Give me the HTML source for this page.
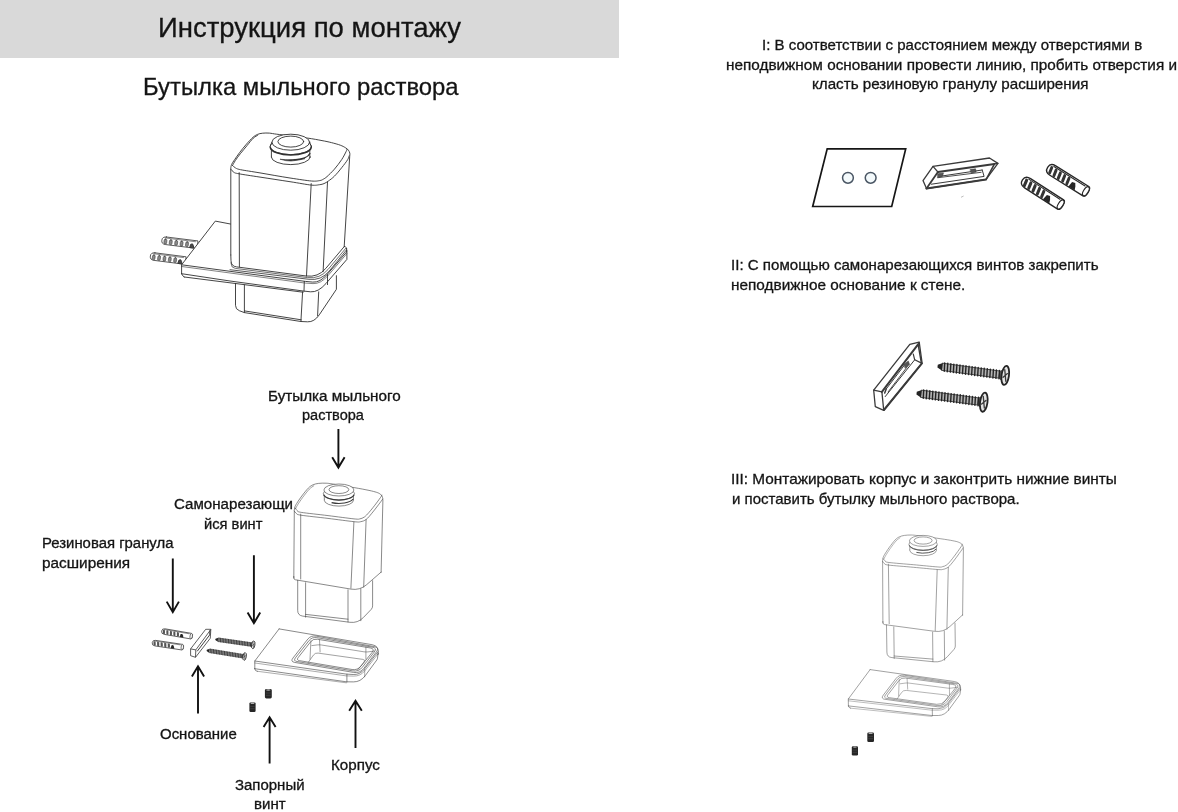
<!DOCTYPE html>
<html lang="ru"><head><meta charset="utf-8"><title>Инструкция по монтажу</title>
<style>
html,body{margin:0;padding:0;background:#fff}
body{width:1178px;height:812px;position:relative;overflow:hidden;font-family:"Liberation Sans",sans-serif;color:#111}
.bar{position:absolute;left:0;top:0;width:619.3px;height:57.6px;background:#d9d9d9}
.t{position:absolute;white-space:nowrap;transform-origin:0 0;color:#141414;will-change:transform;-webkit-text-stroke:0.3px #141414}
</style></head><body>
<div class="bar"></div>
<svg width="1178" height="812" viewBox="0 0 1178 812" style="position:absolute;left:0;top:0">
<g fill="none" stroke="#303030" stroke-width="0.9" stroke-linecap="round" stroke-linejoin="round">
<g transform="translate(163.7 240.5) rotate(7.1)">
<path d="M2.3 -3.8 L34.1 -3.8 L34.1 3.8 L2.3 3.8 Q-1.9 3.8 -1.9 0 Q-1.9 -3.8 2.3 -3.8Z" fill="#fff" stroke="#3a3a3a" stroke-width="0.8" stroke-linejoin="round"/>
<path d="M1.1 -2.7 L31.7 -2.7" stroke="#3a3a3a" stroke-width="0.5599999999999999" fill="none"/>
<rect x="0.4" y="-1.6" width="2.8" height="4.9" rx="1.3" fill="#8a8a8a" stroke="#3a3a3a" stroke-width="0.55"/>
<rect x="5.8" y="-1.6" width="2.8" height="4.9" rx="1.3" fill="#8a8a8a" stroke="#3a3a3a" stroke-width="0.55"/>
<rect x="11.3" y="-1.6" width="2.8" height="4.9" rx="1.3" fill="#8a8a8a" stroke="#3a3a3a" stroke-width="0.55"/>
<rect x="16.7" y="-1.6" width="2.8" height="4.9" rx="1.3" fill="#8a8a8a" stroke="#3a3a3a" stroke-width="0.55"/>
<rect x="22.2" y="-1.6" width="2.8" height="4.9" rx="1.3" fill="#8a8a8a" stroke="#3a3a3a" stroke-width="0.55"/>
<path d="M26.7 3.4 L27.3 0.4 L29 -0.2 L30.1 1.5 L30.7 3.4Z" fill="#4a4a4a"/>
</g>
<g transform="translate(152.2 256.3) rotate(7.3)">
<path d="M2.3 -3.8 L33.7 -3.8 L33.7 3.8 L2.3 3.8 Q-1.9 3.8 -1.9 0 Q-1.9 -3.8 2.3 -3.8Z" fill="#fff" stroke="#3a3a3a" stroke-width="0.8" stroke-linejoin="round"/>
<path d="M1.1 -2.7 L31.3 -2.7" stroke="#3a3a3a" stroke-width="0.5599999999999999" fill="none"/>
<rect x="0.3" y="-1.6" width="2.7" height="4.9" rx="1.3" fill="#8a8a8a" stroke="#3a3a3a" stroke-width="0.55"/>
<rect x="5.7" y="-1.6" width="2.7" height="4.9" rx="1.3" fill="#8a8a8a" stroke="#3a3a3a" stroke-width="0.55"/>
<rect x="11.1" y="-1.6" width="2.7" height="4.9" rx="1.3" fill="#8a8a8a" stroke="#3a3a3a" stroke-width="0.55"/>
<rect x="16.5" y="-1.6" width="2.7" height="4.9" rx="1.3" fill="#8a8a8a" stroke="#3a3a3a" stroke-width="0.55"/>
<rect x="21.9" y="-1.6" width="2.7" height="4.9" rx="1.3" fill="#8a8a8a" stroke="#3a3a3a" stroke-width="0.55"/>
<path d="M26.4 3.4 L27 0.4 L28.7 -0.2 L29.8 1.5 L30.4 3.4Z" fill="#4a4a4a"/>
</g>
<path d="M215.3 221.1 L181.6 264.8 L181.6 273.7 L182.9 275.4 Q184.3 277 188.3 277.5 L303.1 292.1 L310.4 292.8 Q317.6 293.4 325.4 284.3 L347 259.1 L347 250.6 Q347 248.6 345.6 247.2 L344.2 245.8 L231.4 224.2Z" fill="#fff" stroke="none"/>
<path d="M231.4 224.2 L215.3 221.1 L181.6 264.8 L181.6 273.7" />
<path d="M181.6 273.7 L181.6 273.7 Q182.7 276.3 184.3 277 L184.3 277" />
<path d="M181.6 264.8 L305.4 281.4 L312.7 282.1 Q320 282.7 327.2 274.4 L346.6 252 L346.6 248.6" />
<path d="M181.6 266.5 L305.4 283.1 L313 283.6 Q320.7 284.1 328.2 275.4 L346.8 253.7" stroke-width="0.6"/>
<path d="M181.6 273.7 L230 281 L303.1 291 L310.6 291.8 Q318.1 292.5 326 283.5 L346.9 259.4 L346.9 250.5" />
<path d="M184.3 277 L230 282.8 L303.1 292.2" />
<path d="M304.3 281.4 L304 291.2" />
<path d="M327.5 274.6 L327.5 284.6" />
<path d="M235.5 283.4 L235.5 305.3 Q235.5 309.3 239.3 310.7 L244.4 312.6 L300.9 321.5 L307.6 321.8 Q314.2 322.2 319.3 314.8 L336.4 289.3 L336.4 275.7" />
<path d="M244.4 284.9 L244.4 312.6" />
<path d="M244.4 310.9 L301.2 319.8" />
<path d="M302.6 291.8 L300.9 321.5" />
<path d="M318.7 291.9 L317.6 315.6" />
<path d="M230.8 255 L230.8 168 L231.6 164.5 L234.6 159.7 L239.8 152.3 L246.4 144.2 L253.1 137.2 L257.5 134.4 L262.7 133.2 L269.3 133.1 L276.7 134.2 L290 135.8 L307.7 138.1 L322 140.6 L331.4 142.6 L340.3 145.2 L345.4 147.7 L348.4 150.2 L349.8 153.2 L349.7 156.6 L344.2 246.6 L318.1 277.6 L231.1 266.2Z" fill="#fff" stroke="none"/>
<path d="M230.8 255 L230.8 168 L230.8 168 C230.9 167.4 231 165.9 231.6 164.5 C232.2 163.1 233.2 161.7 234.6 159.7 C236 157.7 237.8 154.9 239.8 152.3 C241.8 149.7 244.2 146.7 246.4 144.2 C248.6 141.7 251.2 138.8 253.1 137.2 C254.9 135.6 255.9 135.1 257.5 134.4 C259.1 133.7 260.7 133.4 262.7 133.2 C264.7 133 267 132.9 269.3 133.1 C271.6 133.3 273.2 133.8 276.7 134.2 C280.1 134.6 284.8 135.2 290 135.8 C295.2 136.5 302.4 137.3 307.7 138.1 C313 138.9 318.1 139.8 322 140.6 C325.9 141.3 328.3 141.8 331.4 142.6 C334.4 143.4 338 144.3 340.3 145.2 C342.6 146 344 146.9 345.4 147.7 C346.8 148.5 347.7 149.3 348.4 150.2 C349.1 151.1 349.6 152.1 349.8 153.2 C350 154.3 349.7 156 349.7 156.6 L344.2 246.6" />
<path d="M232.6 165.3 C233.1 164.5 234 162.6 235.3 160.6 C236.6 158.6 238.5 156 240.5 153.5 C242.5 151 245.1 148 247.2 145.4 C249.3 142.8 251.5 139.9 253.3 138.2 C255.1 136.5 257.1 135.7 257.8 135.2" />
<path d="M232.4 165.3 C232.9 165.7 234 167.1 235.3 167.8 C236.7 168.5 236.4 168.8 240.5 169.7 C244.6 170.5 251.8 171.5 260 172.9 C268.2 174.3 281.4 176.7 290 178 C298.6 179.3 306.5 180.6 311.4 181 C316.3 181.4 317.6 180.9 319.6 180.6 C321.6 180.3 322.1 179.9 323.3 179.2 C324.5 178.5 325.1 178.3 327 176.6 C328.9 174.9 331.9 172 334.4 169.2 C336.8 166.4 339.7 162.6 341.7 159.6 C343.7 156.6 345.3 153.1 346.2 151.4 C347.1 149.7 346.8 149.6 346.9 149.2" />
<path d="M230.9 169.3 C231.4 169.8 232.6 171.6 233.9 172.3 C235.2 173.1 234.7 173 239 173.8 C243.3 174.6 251.5 175.8 260 177.1 C268.5 178.4 281.4 180.4 290 181.7 C298.6 183 306.5 184.6 311.4 185.1 C316.3 185.6 317.5 184.9 319.6 184.7 C321.7 184.4 322.5 184.2 324 183.6 C325.5 183 326.7 182.2 328.4 181 C330.1 179.8 332.2 178.4 334.4 176.2 C336.6 174 339.5 170.5 341.7 167.7 C343.9 164.9 346.5 161.6 347.7 159.6 C348.9 157.6 348.9 156.5 349.1 155.9" />
<path d="M239.2 172.7 L239.4 266.9" />
<path d="M311.2 183.6 L306.5 276" />
<path d="M327.5 182.2 L323.1 271.8" />
<path d="M230.8 255 L231 260.7 Q231.1 266.2 236.6 266.9 L306.2 276 Q318.1 277.6 325.8 268.4 L344.2 246.6" />
<path d="M231.1 262.7 L231.2 263.9 Q231.3 267.9 235.3 268.4 L307.6 277.6 Q320 279.1 328 269.5 L345.8 248.3" stroke-width="0.7"/>
<path d="M230 269.7 L308.9 279.3 Q321.3 280.8 329.2 271.1 L346.4 250" stroke-width="0.8"/>
<path d="M344.2 246.6 L344.2 246.6 Q345.3 246.1 346 247.4 L346.6 248.6" />
<ellipse cx="290.8" cy="157" rx="19.4" ry="7.6" fill="#fff"/>
<rect x="271.4" y="147" width="38.8" height="10" fill="#fff" stroke="none"/>
<path d="M271.4 148 L271.4 157" />
<path d="M309.8 148 L309.8 157" />
<path d="M309.9 153.6 A19.4 7.8 0 0 1 294.1 159.9" stroke-width="1.3"/>
<path d="M280.4 159.3 Q286 161.2 291 161 Q298 160.6 305 158.6 Q297 159.6 291 159.6 Q285 159.8 280.4 159.3Z" fill="#333" stroke-width="0.6"/>
<ellipse cx="290.8" cy="146.6" rx="20.6" ry="8" fill="#fff"/>
<path d="M311.2 147.5 A20.5 8 0 0 1 270.3 147.5" stroke-width="1.5"/>
<ellipse cx="290.8" cy="142.2" rx="18.9" ry="8" fill="#fff"/>
<path d="M271.9 142.2 L270.1 146.6" />
<path d="M309.6 142.2 L311.4 146.6" />
<ellipse cx="290.8" cy="141.6" rx="12.9" ry="5.5" />
</g>
<g fill="none" stroke="#3a3a3a" stroke-width="0.6" stroke-linecap="round" stroke-linejoin="round">
<path d="M293.8 578 L294.3 510.5 C294.4 509.9 294.4 508.4 294.8 507.2 C295.2 506 295.5 505.3 296.7 503.5 C297.8 501.6 299.9 498.6 301.8 496 C303.8 493.4 306.5 489.9 308.3 488.1 C310.2 486.2 311.3 485.6 313 484.8 C314.7 484 316.4 483.7 318.6 483.4 C320.8 483.1 323.6 483.1 326.1 483.2 C328.6 483.3 328.9 483.4 333.6 484.2 C338.2 484.9 348.2 486.6 354.1 487.6 C360 488.6 365.3 489.6 369 490.4 C372.8 491.2 374.6 491.7 376.5 492.3 C378.4 492.9 379.3 493.4 380.2 494.1 C381.2 494.9 381.9 495.7 382.3 496.7 C382.7 497.7 382.8 499.6 382.9 500.2 L381.1 572.5" />
<path d="M295.7 508.6 C296 508 296.4 506.7 297.6 504.9 C298.8 503 300.8 500 302.7 497.4 C304.7 494.8 307.4 491.1 309.3 489.2 C311.1 487.3 313 486.4 313.8 485.8" stroke-width="0.48"/>
<path d="M295.3 508.1 C295.6 508.5 296.1 509.8 297.1 510.5 C298.2 511.2 296.2 511.5 301.3 512.4 C306.5 513.2 319.2 514.5 328 515.6 C336.7 516.7 348.8 518.3 354.1 518.9 C359.4 519.4 358 519.2 359.7 518.9 C361.4 518.6 362.8 518.1 364.4 517 C365.9 515.9 367 514.7 369 512.4 C371.1 510 374.5 505.7 376.5 503 C378.5 500.4 380.3 497.8 381.2 496.5 C382.1 495.1 381.6 495.2 381.7 495" />
<path d="M294.3 511 C294.6 511.3 295.1 512.6 296.2 513.3 C297.3 514 295.6 514.3 300.9 515.2 C306.2 516 319.1 517.3 328 518.4 C336.8 519.5 348.7 521.1 354.1 521.7 C359.5 522.2 358.6 522.1 360.6 521.7 C362.7 521.3 364.4 520.8 366.2 519.4 C368.1 518 369.8 515.7 371.8 513.3 C373.9 510.9 376.6 507.2 378.4 504.9 C380.2 502.5 382 500.1 382.7 499.1" />
<path d="M300.7 514.1 L300.7 579" />
<path d="M353.9 522 L350.9 588.2" />
<path d="M366.1 519.7 L363.7 587" />
<path d="M293.8 576.4 L293.9 578.1 Q294 579.6 295.5 579.8 L350.9 589.1 Q359.8 590.6 366.6 584.7 L381.1 572.1" />
<path d="M297.7 580.3 L297.7 610.4 Q297.7 615.4 302.7 616.1 L349.9 622.3 Q357.8 623.3 363.4 617.5 L371.2 609.4 Q372.6 607.9 372.6 605.9 L372.6 580.7" />
<path d="M305.6 582.7 L305.6 617.2" />
<path d="M348 589.8 L348 621.9" />
<path d="M360.8 588.8 L360.8 620.7" />
<path d="M305.6 614.4 L348 619.2" />
</g>
<g fill="#fff" stroke="#3a3a3a" stroke-width="0.6">
<ellipse cx="338.9" cy="500.2" rx="14.6" ry="5.9" />
<rect x="324.3" y="493.5" width="29.2" height="6.7" stroke="none"/>
<path d="M324.3 493.9 L324.3 500.2" />
<path d="M353.5 493.9 L353.5 500.2" />
<path d="M353 499 A14.6 5.9 0 0 1 331.6 502.6" fill="none" stroke-width="1.08"/>
<ellipse cx="338.9" cy="493.7" rx="15.6" ry="6.3" />
<path d="M354.1 494.8 A15.4 6.3 0 0 1 323.7 494.8" fill="none" stroke-width="1.08"/>
<ellipse cx="338.9" cy="490" rx="15" ry="6" />
<ellipse cx="338.9" cy="489.6" rx="9.9" ry="3.9" />
</g>
<g fill="none" stroke="#3a3a3a" stroke-width="0.6" stroke-linecap="round" stroke-linejoin="round">
<path d="M279.1 628.9 L372.1 644.7 Q379 645.9 378.3 652.9 L378.1 654.5" />
<path d="M279.1 628.9 L254.8 661 L254.8 668.7" />
<path d="M254.8 668.7 L254.8 668.9 Q255.2 670.9 257.2 671.3 L257.4 671.3" />
<path d="M254.8 661 L346.3 674.1 L353.1 674.5 Q359.9 674.9 364.2 669.4 L377.9 651.9" />
<path d="M254.8 663 L346.3 675.9 L353.5 676.1 Q360.5 676.3 364.8 670.8 L378 653.9" stroke-width="0.42"/>
<path d="M254.8 668.7 L346.3 681.8 L353.4 681.9 Q360.5 682 365.3 675.6 L376.8 660 Q377.4 659.2 377.5 658.2 L378.1 653.3" />
<path d="M257.4 671.3 L346.3 682.8" stroke-width="0.42"/>
<path d="M346.9 674.1 L346.9 682" />
<path d="M364.7 669.3 L364.7 676.8" stroke-width="0.42"/>
<path d="M315.8 636.1 Q310.9 635.2 307.8 639.1 L292.9 658.1 Q290.2 661.6 294.6 662.4 L353.5 672.4 Q359.9 673.5 363.9 668.3 L376.4 651.9 Q379.8 647.6 374.4 646.6Z" />
<path d="M316.5 637.6 Q312 636.9 309.2 640.4 L295.5 657.7 Q293 660.9 297 661.5 L352.8 670.9 Q358.7 671.9 362.4 667.2 L374.3 652 Q377.4 648 372.5 647.2Z" />
<path d="M317.2 639.2 Q313.2 638.5 310.7 641.7 L298.3 657.4 Q296.1 660.2 299.6 660.7 L352.1 669.5 Q357.6 670.4 361 666.1 L372.2 652.3 Q375 648.8 370.6 648Z" />
<path d="M310.9 640.8 L310 659.2" stroke-width="0.48"/>
<path d="M319.5 640 L320.1 651.9" stroke-width="0.48"/>
<path d="M365.9 647.1 L365.9 659.2" stroke-width="0.48"/>
<path d="M308.2 662.5 L313.4 655.1 Q315.1 652.7 318.1 653.1 L362.9 659.4 Q365.9 659.8 364 662.1 L357.6 669.9" stroke-width="0.48"/>
<path d="M311.8 645.6 L317.5 644.9 Q319.5 644.7 321.5 645 L363.9 651.8 Q365.9 652.1 367.9 651.9 L374.2 651.1" stroke-width="0.48"/>
</g>
<g transform="translate(163 631.3) rotate(9.8)">
<path d="M1.7 -2.8 L28.6 -2.8 A1.3 2.8 0 0 1 28.6 2.8 L1.7 2.8 Q-1.4 2.8 -1.4 0 Q-1.4 -2.8 1.7 -2.8Z" fill="#fff" stroke="#3a3a3a" stroke-width="0.75" stroke-linejoin="round"/>
<ellipse cx="28.6" cy="0" rx="1.2" ry="2.6" fill="#fff" stroke="#3a3a3a" stroke-width="0.6375"/>
<path d="M0.8 -2 L26.6 -2" stroke="#3a3a3a" stroke-width="0.5249999999999999" fill="none"/>
<rect x="-0.1" y="-1.7" width="2.1" height="4.3" rx="0.9" fill="#555" transform="skewX(10)"/>
<rect x="3.4" y="-1.7" width="2.1" height="4.3" rx="0.9" fill="#555" transform="skewX(10)"/>
<rect x="7" y="-1.7" width="2.1" height="4.3" rx="0.9" fill="#555" transform="skewX(10)"/>
<rect x="10.5" y="-1.7" width="2.1" height="4.3" rx="0.9" fill="#555" transform="skewX(10)"/>
<rect x="14.1" y="-1.7" width="2.1" height="4.3" rx="0.9" fill="#555" transform="skewX(10)"/>
<path d="M17.4 2.7 L17.8 -0.3 L19.5 -0.7 L20.5 0.8 L21.2 2.7Z" fill="#262626"/>
</g>
<g transform="translate(153.6 642.9) rotate(8.5)">
<path d="M1.7 -2.8 L29 -2.8 A1.3 2.8 0 0 1 29 2.8 L1.7 2.8 Q-1.4 2.8 -1.4 0 Q-1.4 -2.8 1.7 -2.8Z" fill="#fff" stroke="#3a3a3a" stroke-width="0.75" stroke-linejoin="round"/>
<ellipse cx="29" cy="0" rx="1.2" ry="2.6" fill="#fff" stroke="#3a3a3a" stroke-width="0.6375"/>
<path d="M0.8 -2 L27 -2" stroke="#3a3a3a" stroke-width="0.5249999999999999" fill="none"/>
<rect x="-0.1" y="-1.7" width="2.2" height="4.3" rx="0.9" fill="#555" transform="skewX(10)"/>
<rect x="3.5" y="-1.7" width="2.2" height="4.3" rx="0.9" fill="#555" transform="skewX(10)"/>
<rect x="7.1" y="-1.7" width="2.2" height="4.3" rx="0.9" fill="#555" transform="skewX(10)"/>
<rect x="10.7" y="-1.7" width="2.2" height="4.3" rx="0.9" fill="#555" transform="skewX(10)"/>
<rect x="14.3" y="-1.7" width="2.2" height="4.3" rx="0.9" fill="#555" transform="skewX(10)"/>
<path d="M17.6 2.7 L18.1 -0.3 L19.7 -0.7 L20.7 0.8 L21.4 2.7Z" fill="#262626"/>
</g>
<g fill="#fff" stroke="#2a2a2a" stroke-width="0.75" stroke-linejoin="round">
<path d="M190.6 648.9 L205.7 629.3 L210.8 629.3 L210.3 638.2 L195.5 657.3 L190.6 655.7Z" />
<path d="M190.6 648.9 L195.8 649.9 L195.5 657.3" fill="none"/>
<path d="M195.8 649.9 L210.8 629.5" fill="none"/>
<path d="M197.2 651.3 L209.7 634.9 L209.9 630.3" fill="none" stroke-width="0.9"/>
</g>
<g transform="translate(215.8 639.4) rotate(8.2)">
<path d="M0 -0.5 L1.8 -1.6 L34.8 -1.6 L37.8 -2.6 L37.8 2.6 L34.8 1.6 L1.8 1.6 L0 0.5Z" fill="#9c9c9c" stroke="none"/>
<path d="M-0.4 -0.6 L2.1 -1.8 L2.1 1.8 L-0.4 0.6Z" fill="#242424"/>
<path d="M34.8 -1.6 L36.8 -2.5 L36.8 2.5 L34.8 1.6Z" fill="#555"/>
<path d="M3 -1.9 L3.4 1.9M4.6 -1.9 L5 1.9M6.2 -1.9 L6.6 1.9M7.8 -1.9 L8.2 1.9M9.4 -1.9 L9.8 1.9M11 -1.9 L11.4 1.9M12.6 -1.9 L13 1.9M14.2 -1.9 L14.6 1.9M15.8 -1.9 L16.2 1.9M17.4 -1.9 L17.8 1.9M19 -1.9 L19.4 1.9M20.6 -1.9 L21 1.9M22.2 -1.9 L22.6 1.9M23.8 -1.9 L24.2 1.9M25.4 -1.9 L25.8 1.9M27 -1.9 L27.4 1.9M28.6 -1.9 L29 1.9M30.2 -1.9 L30.6 1.9M31.8 -1.9 L32.2 1.9M33.4 -1.9 L33.8 1.9M35 -1.9 L35.4 1.9" stroke="#242424" stroke-width="0.7" stroke-linecap="round" fill="none"/>
<path d="M1.8 -1.7 L34.8 -1.7 M1.8 1.7 L34.8 1.7" stroke="#242424" stroke-width="0.4" fill="none"/>
<ellipse cx="37.8" cy="0" rx="1.7" ry="3.9" fill="#e4e4e4" stroke="#242424" stroke-width="0.8"/>
<path d="M37.2 -2.3 L38.4 2.3 M38.7 -0.8 L36.9 0.8" stroke="#3a3a3a" stroke-width="0.6" fill="none" stroke-linecap="round"/>
</g>
<g transform="translate(207.1 650.4) rotate(9.2)">
<path d="M0 -0.5 L1.8 -1.6 L35 -1.6 L38 -2.6 L38 2.6 L35 1.6 L1.8 1.6 L0 0.5Z" fill="#9c9c9c" stroke="none"/>
<path d="M-0.4 -0.6 L2.1 -1.8 L2.1 1.8 L-0.4 0.6Z" fill="#242424"/>
<path d="M35 -1.6 L37 -2.5 L37 2.5 L35 1.6Z" fill="#555"/>
<path d="M3 -1.9 L3.4 1.9M4.6 -1.9 L5 1.9M6.2 -1.9 L6.6 1.9M7.8 -1.9 L8.2 1.9M9.4 -1.9 L9.8 1.9M11 -1.9 L11.4 1.9M12.6 -1.9 L13 1.9M14.2 -1.9 L14.6 1.9M15.8 -1.9 L16.2 1.9M17.4 -1.9 L17.8 1.9M19 -1.9 L19.4 1.9M20.6 -1.9 L21 1.9M22.2 -1.9 L22.6 1.9M23.8 -1.9 L24.2 1.9M25.4 -1.9 L25.8 1.9M27 -1.9 L27.4 1.9M28.6 -1.9 L29 1.9M30.2 -1.9 L30.6 1.9M31.8 -1.9 L32.2 1.9M33.4 -1.9 L33.8 1.9M35 -1.9 L35.4 1.9" stroke="#242424" stroke-width="0.7" stroke-linecap="round" fill="none"/>
<path d="M1.8 -1.7 L35 -1.7 M1.8 1.7 L35 1.7" stroke="#242424" stroke-width="0.4" fill="none"/>
<ellipse cx="38" cy="0" rx="1.7" ry="3.9" fill="#e4e4e4" stroke="#242424" stroke-width="0.8"/>
<path d="M37.4 -2.3 L38.6 2.3 M38.9 -0.8 L37.1 0.8" stroke="#3a3a3a" stroke-width="0.6" fill="none" stroke-linecap="round"/>
</g>
<rect x="264.9" y="689.1" width="6.9" height="9.4" rx="1.4" fill="#262626"/><ellipse cx="268.3" cy="690" rx="2.3" ry="0.7" fill="#b0b0b0"/><path d="M265.9 693 h4.8 M265.9 695.3 h4.8" stroke="#555" stroke-width="0.5" fill="none"/>
<rect x="249.4" y="702.4" width="6.2" height="9.6" rx="1.2" fill="#262626"/><ellipse cx="252.5" cy="703.4" rx="2" ry="0.7" fill="#b0b0b0"/><path d="M250.3 706.4 h4.3 M250.3 708.7 h4.3" stroke="#555" stroke-width="0.5" fill="none"/>
<path d="M827.2 148.9 L905.7 148.9 L891.7 206.5 L812.7 206.5Z" fill="none" stroke="#161616" stroke-width="1.7" stroke-linejoin="miter"/>
<circle cx="847.95" cy="177.8" r="5.4" fill="#f4fafc" stroke="#4a5664" stroke-width="1.5"/>
<circle cx="870.65" cy="177.8" r="5.4" fill="#f4fafc" stroke="#4a5664" stroke-width="1.5"/>
<g fill="none" stroke="#3a3a3a" stroke-width="1.3" stroke-linejoin="round" stroke-linecap="round">
<path d="M923 180.6 L933 166.4 L989.5 158 L997.9 163.4 L986.1 179.4 L926.5 188.6Z" fill="#fff"/>
<path d="M933 166.4 L937.9 172" stroke-width="1.2"/>
<path d="M937.9 172 L926.5 188.4" stroke-width="1.8"/>
<path d="M937.9 172 L994.5 163.9" stroke-width="2.0"/>
<path d="M994.5 163.9 L997.9 163.4" stroke-width="1.3"/>
<path d="M994.5 163.9 L986.2 179.3" stroke-width="1.6"/>
<path d="M926.5 188.4 L986.1 179.4" stroke-width="2.0"/>
<path d="M931.4 184.2 L984.1 176.4 L982.2 170" stroke-width="1.0"/>
<path d="M940.6 176.2 L982.2 170" stroke-width="1.0"/>
<path d="M937.9 177.7 L981.1 172.3" stroke-width="0.9"/>
<path d="M937.9 173.8 L943.4 172.9 L942.5 176.2 L937.8 177.5Z" fill="#555" stroke-width="0.6"/>
<path d="M970.4 169.6 L975.5 168.8 L976.1 172 L971.5 172.9Z" fill="#555" stroke-width="0.6"/>
</g>
<path d="M961 197.3 L963.6 196" stroke="#b5b5b5" stroke-width="0.9" fill="none"/>
<g transform="translate(1050 168.8) rotate(32)">
<path d="M3.3 -5.5 L42.3 -5.5 A2.5 5.5 0 0 1 42.3 5.5 L3.3 5.5 Q-2.8 5.5 -2.8 0 Q-2.8 -5.5 3.3 -5.5Z" fill="#fff" stroke="#262626" stroke-width="1.35" stroke-linejoin="round"/>
<ellipse cx="42.3" cy="0" rx="2.3" ry="5.1" fill="#fff" stroke="#262626" stroke-width="1.1475"/>
<path d="M1.6 -4 L39.3 -4" stroke="#262626" stroke-width="0.945" fill="none"/>
<rect x="-0.3" y="-3.4" width="3" height="8.5" rx="1.3" fill="#333" transform="skewX(10)"/>
<rect x="4.8" y="-3.4" width="3" height="8.5" rx="1.3" fill="#333" transform="skewX(10)"/>
<rect x="9.9" y="-3.4" width="3" height="8.5" rx="1.3" fill="#333" transform="skewX(10)"/>
<rect x="15" y="-3.4" width="3" height="8.5" rx="1.3" fill="#333" transform="skewX(10)"/>
<rect x="20" y="-3.4" width="3" height="8.5" rx="1.3" fill="#333" transform="skewX(10)"/>
<path d="M24.9 5.2 L25.7 -0.6 L29 -1.4 L30.9 1.6 L32.3 5.2Z" fill="#262626"/>
</g>
<g transform="translate(1024.8 181.4) rotate(32.8)">
<path d="M3.3 -5.5 L42.6 -5.5 A2.5 5.5 0 0 1 42.6 5.5 L3.3 5.5 Q-2.8 5.5 -2.8 0 Q-2.8 -5.5 3.3 -5.5Z" fill="#fff" stroke="#262626" stroke-width="1.35" stroke-linejoin="round"/>
<ellipse cx="42.6" cy="0" rx="2.3" ry="5.1" fill="#fff" stroke="#262626" stroke-width="1.1475"/>
<path d="M1.6 -4 L39.6 -4" stroke="#262626" stroke-width="0.945" fill="none"/>
<rect x="-0.3" y="-3.4" width="3.1" height="8.5" rx="1.3" fill="#333" transform="skewX(10)"/>
<rect x="4.8" y="-3.4" width="3.1" height="8.5" rx="1.3" fill="#333" transform="skewX(10)"/>
<rect x="9.9" y="-3.4" width="3.1" height="8.5" rx="1.3" fill="#333" transform="skewX(10)"/>
<rect x="15.1" y="-3.4" width="3.1" height="8.5" rx="1.3" fill="#333" transform="skewX(10)"/>
<rect x="20.2" y="-3.4" width="3.1" height="8.5" rx="1.3" fill="#333" transform="skewX(10)"/>
<path d="M25 5.2 L25.9 -0.6 L29.2 -1.4 L31.1 1.6 L32.5 5.2Z" fill="#262626"/>
</g>
<g fill="none" stroke="#3a3a3a" stroke-width="1.3" stroke-linejoin="round" stroke-linecap="round">
<path d="M873.7 390.2 L909.8 344.4 L919.2 342.1 L922.1 363.1 L883.7 410.3 L875.3 406.7Z" fill="#fff"/>
<path d="M873.7 390.2 L881.9 391.9 L883.7 410.3" />
<path d="M881.9 391.9 L917.7 344.8" stroke-width="2.0"/>
<path d="M883.9 410 L921.9 363.4" stroke-width="2.0"/>
<path d="M917.7 344.8 L919 342.4" stroke-width="1.2"/>
<path d="M918.2 344.8 L921.3 362.6" stroke-width="1.4"/>
<path d="M913.3 354.2 L914.7 359.8 L921.6 363.1" stroke-width="1.2"/>
<path d="M885.2 396.6 L914.7 359.8" stroke-width="1.0"/>
<path d="M886.2 389 L904.9 364.5" stroke-width="1.0"/>
<path d="M884.7 393.1 L886.2 389" stroke-width="1.5"/>
<path d="M888.1 391.9 L907.3 366.7" stroke-width="0.9"/>
<path d="M903.9 364.5 L908.3 361.1 L909.5 364.5 L905.4 368Z" fill="#555" stroke-width="0.6"/>
</g>
<g transform="translate(938 366.2) rotate(7.8)">
<path d="M0 -1.1 L3.8 -3.4 L61.4 -3.4 L67.9 -6.4 L67.9 6.4 L61.4 3.4 L3.8 3.4 L0 1.1Z" fill="#b4b4b4" stroke="none"/>
<path d="M-0.4 -1.3 L4.5 -3.8 L4.5 3.8 L-0.4 1.3Z" fill="#242424"/>
<path d="M61.4 -3.4 L65.7 -6.2 L65.7 6.2 L61.4 3.4Z" fill="#555"/>
<path d="M6.2 -4.2 L6.9 4.2M9.3 -4.2 L9.9 4.2M12.4 -4.2 L13 4.2M15.4 -4.2 L16.1 4.2M18.5 -4.2 L19.1 4.2M21.6 -4.2 L22.2 4.2M24.7 -4.2 L25.3 4.2M27.7 -4.2 L28.3 4.2M30.8 -4.2 L31.4 4.2M33.9 -4.2 L34.5 4.2M36.9 -4.2 L37.6 4.2M40 -4.2 L40.6 4.2M43.1 -4.2 L43.7 4.2M46.1 -4.2 L46.8 4.2M49.2 -4.2 L49.8 4.2M52.3 -4.2 L52.9 4.2M55.4 -4.2 L56 4.2M58.4 -4.2 L59 4.2M61.5 -4.2 L62.1 4.2" stroke="#242424" stroke-width="1.4" stroke-linecap="round" fill="none"/>
<path d="M3.8 -3.6 L61.4 -3.6 M3.8 3.6 L61.4 3.6" stroke="#242424" stroke-width="0.8" fill="none"/>
<ellipse cx="67.9" cy="0" rx="3.7" ry="9.6" fill="#e4e4e4" stroke="#242424" stroke-width="1.8"/>
<path d="M66.6 -5.7 L69.2 5.7 M69.8 -2.1 L66 2.1" stroke="#3a3a3a" stroke-width="1.3" fill="none" stroke-linecap="round"/>
</g>
<g transform="translate(917 393.2) rotate(7.7)">
<path d="M0 -1.1 L3.8 -3.4 L61 -3.4 L67.4 -6.4 L67.4 6.4 L61 3.4 L3.8 3.4 L0 1.1Z" fill="#b4b4b4" stroke="none"/>
<path d="M-0.4 -1.3 L4.5 -3.8 L4.5 3.8 L-0.4 1.3Z" fill="#242424"/>
<path d="M61 -3.4 L65.3 -6.2 L65.3 6.2 L61 3.4Z" fill="#555"/>
<path d="M6.2 -4.2 L6.9 4.2M9.3 -4.2 L9.9 4.2M12.4 -4.2 L13 4.2M15.4 -4.2 L16.1 4.2M18.5 -4.2 L19.1 4.2M21.6 -4.2 L22.2 4.2M24.7 -4.2 L25.3 4.2M27.7 -4.2 L28.3 4.2M30.8 -4.2 L31.4 4.2M33.9 -4.2 L34.5 4.2M36.9 -4.2 L37.6 4.2M40 -4.2 L40.6 4.2M43.1 -4.2 L43.7 4.2M46.1 -4.2 L46.8 4.2M49.2 -4.2 L49.8 4.2M52.3 -4.2 L52.9 4.2M55.4 -4.2 L56 4.2M58.4 -4.2 L59 4.2M61.5 -4.2 L62.1 4.2" stroke="#242424" stroke-width="1.4" stroke-linecap="round" fill="none"/>
<path d="M3.8 -3.6 L61 -3.6 M3.8 3.6 L61 3.6" stroke="#242424" stroke-width="0.8" fill="none"/>
<ellipse cx="67.4" cy="0" rx="3.7" ry="9.6" fill="#e4e4e4" stroke="#242424" stroke-width="1.8"/>
<path d="M66.1 -5.7 L68.7 5.7 M69.3 -2.1 L65.5 2.1" stroke="#3a3a3a" stroke-width="1.3" fill="none" stroke-linecap="round"/>
</g>
<g fill="none" stroke="#555" stroke-width="0.55" stroke-linecap="round" stroke-linejoin="round">
<path d="M882.9 622.9 L882.6 561 C882.6 560.5 882.6 559.1 883 558 C883.3 556.9 883.6 556.2 884.6 554.5 C885.7 552.7 887.5 549.9 889.2 547.5 C891 545.1 893.4 541.8 895.1 540 C896.8 538.2 897.8 537.6 899.3 536.9 C900.9 536.1 902.5 535.7 904.5 535.4 C906.4 535.1 909 535 911.3 535 C913.6 535.1 913.8 535.1 918.1 535.7 C922.4 536.2 931.5 537.4 936.9 538.2 C942.4 539 947.2 539.7 950.6 540.3 C954 541 955.8 541.3 957.5 541.8 C959.2 542.4 960 542.8 960.9 543.4 C961.8 544.1 962.4 544.8 962.8 545.7 C963.2 546.6 963.3 548.4 963.4 548.9 L962.6 615.3" />
<path d="M883.8 559.2 C884.1 558.7 884.5 557.5 885.5 555.8 C886.6 554 888.4 551.2 890.1 548.7 C891.9 546.3 894.3 542.8 896 541 C897.6 539.2 899.4 538.3 900 537.8" stroke-width="0.44000000000000006"/>
<path d="M883.4 558.8 C883.7 559.2 884.2 560.3 885.1 560.9 C886.1 561.5 884.3 561.9 889 562.5 C893.7 563.1 905.3 564 913.4 564.7 C921.4 565.4 932.5 566.6 937.3 566.9 C942.2 567.3 940.9 567.1 942.4 566.7 C944 566.4 945.3 565.9 946.7 564.9 C948.1 563.9 949.1 562.7 950.9 560.5 C952.7 558.3 955.8 554.2 957.6 551.7 C959.4 549.2 961 546.8 961.8 545.6 C962.6 544.3 962.2 544.4 962.3 544.2" />
<path d="M882.6 561.4 C882.9 561.8 883.3 562.9 884.3 563.5 C885.3 564.1 883.8 564.4 888.6 565.1 C893.5 565.7 905.3 566.5 913.4 567.3 C921.5 568 932.4 569.1 937.3 569.5 C942.3 569.8 941.5 569.7 943.3 569.3 C945.2 568.9 946.7 568.3 948.4 567 C950.1 565.6 951.6 563.5 953.5 561.2 C955.3 559 957.7 555.6 959.3 553.3 C961 551.1 962.5 548.8 963.2 547.9" />
<path d="M888.4 564.2 L889.2 623.6" />
<path d="M937.2 569.8 L935.2 630.6" />
<path d="M948.3 567.3 L946.9 629.1" />
<path d="M882.9 621.5 L883 622.9 Q883.1 624.4 884.6 624.6 L934.5 631.3 Q943.4 632.5 950 626.4 L962.6 614.9" />
<path d="M886.5 625 L886.9 652.1 Q886.9 657.1 891.9 657.6 L934 661.8 Q942 662.6 947.4 656.7 L953.9 649.5 Q955.3 648 955.3 646 L955 623.1" />
<path d="M893.8 626.9 L894.2 658.5" />
<path d="M932.6 632.1 L932.9 661.6" />
<path d="M944.3 630.9 L944.6 660.1" />
<path d="M894.1 656 L932.9 659.1" />
</g>
<g fill="#fff" stroke="#555" stroke-width="0.55">
<ellipse cx="923.1" cy="550.3" rx="13.3" ry="5.4" />
<rect x="909.8" y="544.1" width="26.7" height="6.1" stroke="none"/>
<path d="M909.8 544.5 L909.8 550.3" />
<path d="M936.4 544.5 L936.4 550.3" />
<path d="M936 549.1 A13.3 5.4 0 0 1 916.4 552.4" fill="none" stroke-width="0.9900000000000001"/>
<ellipse cx="923.1" cy="544.3" rx="14.2" ry="5.8" />
<path d="M937 545.3 A14 5.8 0 0 1 909.2 545.3" fill="none" stroke-width="0.9900000000000001"/>
<ellipse cx="923.1" cy="540.9" rx="13.7" ry="5.5" />
<ellipse cx="923.1" cy="540.5" rx="9" ry="3.6" />
</g>
<g fill="none" stroke="#555" stroke-width="0.55" stroke-linecap="round" stroke-linejoin="round">
<path d="M870.1 669.6 L954.3 681.5 Q961.2 682.5 960.6 689.5 L960.6 690.2" />
<path d="M870.1 669.6 L848.3 699 L848.4 705.9" />
<path d="M848.4 705.9 L848.4 705.9 Q848.8 707.8 850.8 708.2 L850.8 708.2" />
<path d="M848.3 699 L931.8 708.6 L938 708.8 Q944.2 709 948.5 703.4 L960.3 687.9" />
<path d="M848.3 700.8 L931.8 710.2 L938.3 710.2 Q944.8 710.3 949 704.7 L960.5 689.7" stroke-width="0.385"/>
<path d="M848.4 705.9 L931.9 715.5 L938.4 715.5 Q944.9 715.4 949.5 708.9 L959.4 695.3 Q960 694.5 960.1 693.5 L960.6 689.1" />
<path d="M850.8 708.2 L931.9 716.4" stroke-width="0.385"/>
<path d="M932.3 708.6 L932.4 715.7" />
<path d="M948.5 703.9 L948.6 710.6" stroke-width="0.385"/>
<path d="M904 675.2 Q899.1 674.5 896.1 678.4 L883.3 695.1 Q880.5 698.7 885 699.3 L937.8 706.8 Q944.2 707.7 948.1 702.5 L958.7 688.4 Q962 684 956.6 683.2Z" />
<path d="M904.7 676.6 Q900.2 675.9 897.4 679.5 L885.6 694.8 Q883.1 698 887.1 698.5 L937.2 705.5 Q943.1 706.4 946.8 701.6 L956.8 688.4 Q959.9 684.5 954.9 683.8Z" />
<path d="M905.3 678 Q901.3 677.4 898.9 680.6 L888.1 694.5 Q885.9 697.3 889.4 697.7 L936.6 704.3 Q942 705 945.4 700.7 L954.9 688.7 Q957.7 685.2 953.2 684.5Z" />
<path d="M899.2 679.5 L898.6 696.1" stroke-width="0.44000000000000006"/>
<path d="M907.1 678.5 L907.7 689.2" stroke-width="0.44000000000000006"/>
<path d="M949.4 683.9 L949.5 694.8" stroke-width="0.44000000000000006"/>
<path d="M897 699.1 L901.5 692.6 Q903.2 690.1 906.2 690.4 L946.5 695 Q949.5 695.3 947.6 697.6 L942 704.6" stroke-width="0.44000000000000006"/>
<path d="M900.1 683.8 L905.1 683.1 Q907.1 682.8 909.1 683.1 L947.4 688.1 Q949.4 688.4 951.4 688.1 L957 687.3" stroke-width="0.44000000000000006"/>
</g>
<rect x="867.3" y="732.4" width="6.7" height="9.6" rx="1.3" fill="#262626"/><ellipse cx="870.6" cy="733.4" rx="2.2" ry="0.7" fill="#b0b0b0"/><path d="M868.3 736.4 h4.7 M868.3 738.7 h4.7" stroke="#555" stroke-width="0.5" fill="none"/>
<rect x="851.8" y="746.2" width="6.2" height="9.3" rx="1.2" fill="#262626"/><ellipse cx="854.9" cy="747.1" rx="2" ry="0.7" fill="#b0b0b0"/><path d="M852.7 750.1 h4.3 M852.7 752.3 h4.3" stroke="#555" stroke-width="0.5" fill="none"/>
<g fill="none" stroke="#111" stroke-width="1.9" stroke-linecap="butt" stroke-linejoin="miter">
<path d="M338.4 429.1 V466.8 M332.2 457.3 L338.4 467.6 L344.6 457.3"/>
<path d="M172.8 558.4 V611.4 M166.7 601.6 L172.8 612.2 L178.9 601.6"/>
<path d="M253.9 555.2 V622.4 M247.6 612.5 L253.9 623.2 L260.2 612.5"/>
<path d="M198 713.5 V667.1 M191.9 676.4 L198 666.3 L204.1 676.4"/>
<path d="M269.6 763.5 V718 M263.6 726.9 L269.6 717.2 L275.6 726.9"/>
<path d="M355.5 747.9 V701.5 M349.2 710.7 L355.5 700.7 L361.8 710.7"/>
</g>
</svg>
<div class="t" id="t0" style="left:157.6px;top:13.59px;font-size:27.3px;line-height:27.3px;transform:scaleX(1.0074)">Инструкция по монтажу</div>
<div class="t" id="t1" style="left:143px;top:75.15px;font-size:23.8px;line-height:23.8px;transform:scaleX(1.0013)">Бутылка мыльного раствора</div>
<div class="t" id="t2" style="left:761.8px;top:37.74px;font-size:14.6px;line-height:14.6px;transform:scaleX(1.0304)">I: В соответствии с расстоянием между отверстиями в</div>
<div class="t" id="t3" style="left:725.5px;top:57.74px;font-size:14.6px;line-height:14.6px;transform:scaleX(1.0500)">неподвижном основании провести линию, пробить отверстия и</div>
<div class="t" id="t4" style="left:811.9px;top:76.74px;font-size:14.6px;line-height:14.6px;transform:scaleX(1.0402)">класть резиновую гранулу расширения</div>
<div class="t" id="t5" style="left:731.1px;top:258.14px;font-size:14.6px;line-height:14.6px;transform:scaleX(1.0333)">II: С помощью самонарезающихся винтов закрепить</div>
<div class="t" id="t6" style="left:730.9px;top:277.64px;font-size:14.6px;line-height:14.6px;transform:scaleX(1.0518)">неподвижное основание к стене.</div>
<div class="t" id="t7" style="left:731.1px;top:472.04px;font-size:14.6px;line-height:14.6px;transform:scaleX(1.0515)">III: Монтажировать корпус и законтрить нижние винты</div>
<div class="t" id="t8" style="left:731.8px;top:491.84px;font-size:14.6px;line-height:14.6px;transform:scaleX(1.0289)">и поставить бутылку мыльного раствора.</div>
<div class="t" id="t9" style="left:267.8px;top:389.05px;font-size:14.0px;line-height:14.0px;transform:scaleX(1.0884)">Бутылка мыльного</div>
<div class="t" id="t10" style="left:301.9px;top:407.85px;font-size:14.0px;line-height:14.0px;transform:scaleX(1.0382)">раствора</div>
<div class="t" id="t11" style="left:174px;top:497.25px;font-size:14.0px;line-height:14.0px;transform:scaleX(1.0790)">Самонарезающи</div>
<div class="t" id="t12" style="left:203.9px;top:516.75px;font-size:14.0px;line-height:14.0px;transform:scaleX(1.0489)">йся винт</div>
<div class="t" id="t13" style="left:41.6px;top:536.25px;font-size:14.0px;line-height:14.0px;transform:scaleX(1.0640)">Резиновая гранула</div>
<div class="t" id="t14" style="left:41.6px;top:555.75px;font-size:14.0px;line-height:14.0px;transform:scaleX(1.0963)">расширения</div>
<div class="t" id="t15" style="left:160.1px;top:726.85px;font-size:14.0px;line-height:14.0px;transform:scaleX(1.0687)">Основание</div>
<div class="t" id="t16" style="left:331.1px;top:757.75px;font-size:14.0px;line-height:14.0px;transform:scaleX(1.0820)">Корпус</div>
<div class="t" id="t17" style="left:235.2px;top:777.55px;font-size:14.0px;line-height:14.0px;transform:scaleX(1.0690)">Запорный</div>
<div class="t" id="t18" style="left:253.6px;top:796.75px;font-size:14.0px;line-height:14.0px;transform:scaleX(1.0765)">винт</div>
</body></html>
